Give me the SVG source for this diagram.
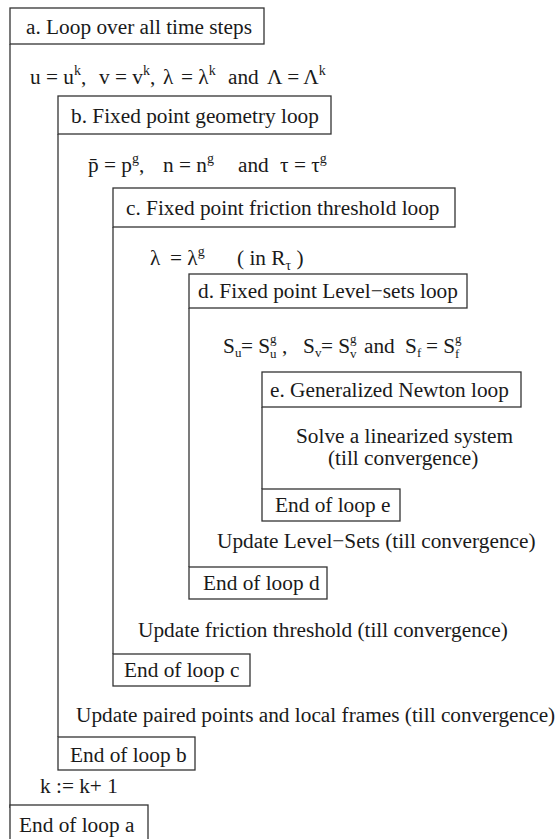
<svg xmlns="http://www.w3.org/2000/svg" width="558" height="839" viewBox="0 0 558 839">
<style>
text{font-family:'Liberation Serif','Times New Roman',serif;font-size:21.3px;fill:#1a1a1a}
.s{font-size:14px}
.b{font-size:13px}
.box{fill:#fff;stroke:#333;stroke-width:1.3}
.ln{stroke:#333;stroke-width:1.3;fill:none}
</style>
<rect width="558" height="839" fill="#fff"/>
<g id="connectors">
<line class="ln" x1="10" y1="44" x2="10" y2="808"/>
<line class="ln" x1="58" y1="134" x2="58" y2="737"/>
<line class="ln" x1="113" y1="227" x2="113" y2="654"/>
<line class="ln" x1="189" y1="308" x2="189" y2="567"/>
<line class="ln" x1="262" y1="407" x2="262" y2="489"/>
</g>
<g id="loop-a">
<rect class="box" x="10" y="8" width="254" height="36"/>
<text x="26" y="34">a. Loop over all time steps</text>
</g>
<g id="init-a">
<text y="84"><tspan x="30">u = u</tspan><tspan class="s" dy="-9">k</tspan><tspan dy="9">,</tspan><tspan x="99">v = v</tspan><tspan class="s" dy="-9">k</tspan><tspan dy="9">,</tspan><tspan x="163">λ</tspan><tspan x="181">= λ</tspan><tspan class="s" dy="-9">k</tspan><tspan dy="9" x="228">and</tspan><tspan x="267">Λ = Λ</tspan><tspan class="s" dy="-9">k</tspan></text>
</g>
<g id="loop-b">
<rect class="box" x="58" y="96" width="273" height="38"/>
<text x="71" y="123">b. Fixed point geometry loop</text>
</g>
<g id="init-b">
<text y="172"><tspan x="88">p̄ = p</tspan><tspan class="s" dy="-9">g</tspan><tspan dy="9">,</tspan><tspan x="163">n = n</tspan><tspan class="s" dy="-9">g</tspan><tspan dy="9" x="238">and</tspan><tspan x="280">τ = τ</tspan><tspan class="s" dy="-9">g</tspan></text>
</g>
<g id="loop-c">
<rect class="box" x="113" y="188" width="342" height="39"/>
<text x="126" y="215">c. Fixed point friction threshold loop</text>
</g>
<g id="init-c">
<text y="265"><tspan x="150">λ</tspan><tspan x="170">= λ</tspan><tspan class="s" dy="-9">g</tspan><tspan dy="9" x="237">( in R</tspan><tspan class="s" dy="5">τ</tspan><tspan dy="-5"> )</tspan></text>
</g>
<g id="loop-d">
<rect class="box" x="189" y="274" width="278" height="34"/>
<text x="198" y="298">d. Fixed point Level−sets loop</text>
</g>
<g id="init-d">
<text y="353"><tspan x="223">S</tspan><tspan class="b" x="235" dy="4">u</tspan><tspan x="241" dy="-4">= S</tspan><tspan class="b" x="270" y="343">g</tspan><tspan class="b" x="270" y="358">u</tspan><tspan x="282" y="353">,</tspan><tspan x="303">S</tspan><tspan class="b" x="315" dy="4">v</tspan><tspan x="321" dy="-4">= S</tspan><tspan class="b" x="350" y="343">g</tspan><tspan class="b" x="350" y="358">v</tspan><tspan x="364" y="353">and</tspan><tspan x="405">S</tspan><tspan class="b" x="417" dy="4">f</tspan><tspan x="426" dy="-4">= S</tspan><tspan class="b" x="455" y="343">g</tspan><tspan class="b" x="455" y="358">f</tspan></text>
</g>
<g id="loop-e">
<rect class="box" x="262" y="372" width="259" height="35"/>
<text x="270" y="397">e. Generalized Newton loop</text>
</g>
<g id="body-e">
<text x="296" y="443">Solve a linearized system</text>
<text x="328" y="465">(till convergence)</text>
</g>
<g id="end-e">
<rect class="box" x="262" y="489" width="138" height="32"/>
<text x="275" y="512">End of loop e</text>
</g>
<g id="update-d">
<text x="217" y="548">Update Level−Sets (till convergence)</text>
</g>
<g id="end-d">
<rect class="box" x="189" y="567" width="138" height="32"/>
<text x="203" y="590">End of loop d</text>
</g>
<g id="update-c">
<text x="138" y="637">Update friction threshold (till convergence)</text>
</g>
<g id="end-c">
<rect class="box" x="113" y="654" width="137" height="32"/>
<text x="124" y="677">End of loop c</text>
</g>
<g id="update-b">
<text x="76" y="722">Update paired points and local frames (till convergence)</text>
</g>
<g id="end-b">
<rect class="box" x="58" y="737" width="137" height="33"/>
<text x="70" y="762">End of loop b</text>
</g>
<g id="update-a">
<text x="40" y="793">k := k+ 1</text>
</g>
<g id="end-a">
<rect class="box" x="10" y="805" width="138" height="36"/>
<text x="19" y="832">End of loop a</text>
</g>
</svg>
